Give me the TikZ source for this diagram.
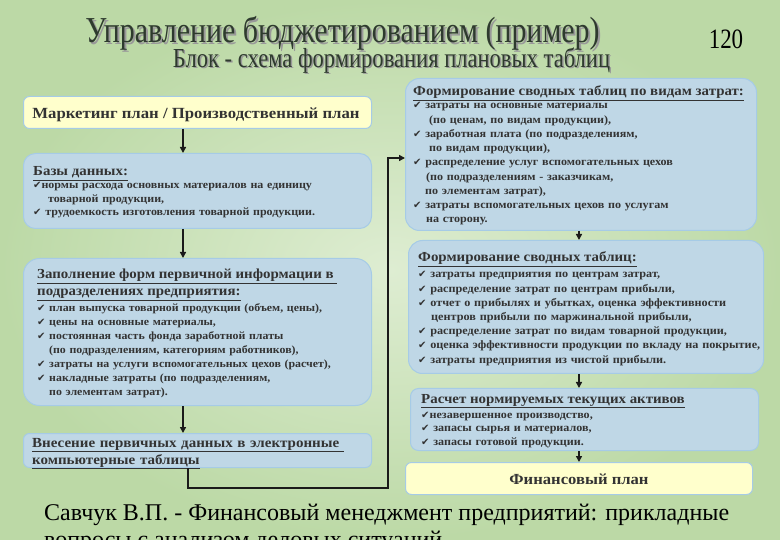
\documentclass[tikz,border=0pt]{standalone}
\usepackage{fontspec}
\setmainfont{Liberation Serif}
\newfontfamily\dejavu{DejaVu Sans}
\newfontfamily\narrowserif[FakeStretch=0.82]{Liberation Serif}
\newfontfamily\boxfont[FakeStretch=1.08]{Liberation Serif}
\usetikzlibrary{arrows.meta,calc}
\definecolor{bgLight}{HTML}{DEEDD2}
\definecolor{bgDark}{HTML}{BCD9A6}
\definecolor{boxBlue}{HTML}{BFD7E6}
\definecolor{boxEdge}{HTML}{A6CBE6}
\definecolor{boxYellow}{HTML}{FFFFCC}
\definecolor{txtGray}{HTML}{333333}
\definecolor{titleCol}{HTML}{2E3A2E}
\definecolor{lineCol}{HTML}{1A1A1A}
\newcommand{\chk}{{\dejavu\fontsize{10}{10}\selectfont ✔}}
\newcommand{\hd}[1]{{\fontsize{13.8}{14}\selectfont\underline{#1}}}
\tikzset{
  bluebox/.style={draw=boxEdge, line width=1pt, fill=boxBlue, rounded corners=12pt, anchor=north west, inner sep=0pt},
  yellowbox/.style={draw=boxEdge, line width=1pt, fill=boxYellow, rounded corners=6pt, anchor=north west, inner sep=0pt},
  txt/.style={anchor=base west, inner sep=0pt, align=left, text width=420pt, text=txtGray},
  conn/.style={draw=lineCol, line width=2.2pt, line join=miter},
  flow/.style={conn, -{Triangle[length=6pt,width=6pt]}},
}
\begin{document}
\begin{tikzpicture}[x=1pt,y=-1pt]
\useasboundingbox (0,0) rectangle (780,540);
\clip (0,0) rectangle (780,540);
\shade[inner color=bgLight, outer color=bgDark] (0,0) rectangle (780,540);

% titles
\node[inner sep=0pt, text=black!40, font=\narrowserif\fontsize{36.5}{36.5}\selectfont] at (344.5,35.5) {Управление бюджетированием (пример)};
\node[inner sep=0pt, text=titleCol, font=\narrowserif\fontsize{36.5}{36.5}\selectfont] (title) at (342.5,33.5) {Управление бюджетированием (пример)};
\node[inner sep=0pt, text=black, font=\narrowserif\fontsize{28}{28}\selectfont] (num) at (726,39) {120};
\node[inner sep=0pt, text=black!40, font=\narrowserif\fontsize{27.5}{27.5}\selectfont] at (393,62) {Блок - схема формирования плановых таблиц};
\node[inner sep=0pt, text=titleCol, font=\narrowserif\fontsize{27.5}{27.5}\selectfont] (subtitle) at (391.5,60.5) {Блок - схема формирования плановых таблиц};

% boxes
\node[yellowbox, minimum width=348pt, minimum height=32pt] (b1) at (23,96) {};
\node[bluebox, minimum width=348pt, minimum height=75pt] (b2) at (23,153) {};
\node[bluebox, rounded corners=16pt, minimum width=348pt, minimum height=147pt] (b3) at (23,258) {};
\node[bluebox, rounded corners=6pt, minimum width=348pt, minimum height=34pt] (b4) at (23,433) {};
\node[bluebox, rounded corners=14pt, minimum width=351pt, minimum height=152pt] (b5) at (405,78) {};
\node[bluebox, rounded corners=14pt, minimum width=355pt, minimum height=133pt] (b6) at (408,240) {};
\node[bluebox, rounded corners=8pt, minimum width=348pt, minimum height=62pt] (b7) at (410,388) {};
\node[yellowbox, minimum width=347pt, minimum height=32pt] (b8) at (405,462) {};

% texts
\node[anchor=base, inner sep=0pt, text=txtGray, font=\boxfont\bfseries\fontsize{15.5}{16}\selectfont] (t1) at (196,119) {Маркетинг план / Производственный план};

\node[txt, font=\boxfont\bfseries\fontsize{11.1}{13.5}\selectfont] (t2) at (33,176) {\hd{Базы данных:}\\[-0.5pt]
\chk нормы расхода основных материалов на единицу\\
\hspace*{15pt}товарной продукции,\\
\chk\ трудоемкость изготовления товарной продукции.};

\node[txt, font=\boxfont\bfseries\fontsize{11}{14}\selectfont] (t3) at (37,279) {\hd{Заполнение форм первичной информации в\ }\\[3pt]
\hd{подразделениях предприятия:}\\[2pt]
\chk\ план выпуска товарной продукции (объем, цены),\\
\chk\ цены на основные материалы,\\
\chk\ постоянная часть фонда заработной платы\\
\hspace*{12pt}(по подразделениям, категориям работников),\\
\chk\ затраты на услуги вспомогательных цехов (расчет),\\
\chk\ накладные затраты (по подразделениям,\\
\hspace*{12pt}по элементам затрат).};

\node[txt, font=\boxfont\bfseries\fontsize{13.9}{17}\selectfont] (t4) at (32,447) {\underline{Внесение первичных данных в электронные\ }\\
\underline{компьютерные таблицы}};

\node[txt, font=\boxfont\bfseries\fontsize{11.2}{14.25}\selectfont] (t5) at (413,96) {\hd{Формирование сводных таблиц по видам затрат:}\\[-1.25pt]
\chk\ затраты на основные материалы\\
\hspace*{16pt}(по ценам, по видам продукции),\\
\chk\ заработная плата (по подразделениям,\\
\hspace*{16pt}по видам продукции),\\
\chk\ распределение услуг вспомогательных цехов\\
\hspace*{13pt}(по подразделениям - заказчикам,\\
\hspace*{12pt}по элементам затрат),\\
\chk\ затраты вспомогательных цехов по услугам\\
\hspace*{13pt}на сторону.};

\node[txt, font=\boxfont\bfseries\fontsize{11.3}{14.2}\selectfont] (t6) at (418,262) {\hd{Формирование сводных таблиц:}\\[1.8pt]
\chk\ затраты предприятия по центрам затрат,\\
\chk\ распределение затрат по центрам прибыли,\\
\chk\ отчет о прибылях и убытках, оценка эффективности\\
\hspace*{13pt}центров прибыли по маржинальной прибыли,\\
\chk\ распределение затрат по видам товарной продукции,\\
\chk\ оценка эффективности продукции по вкладу на покрытие,\\
\chk\ затраты предприятия из чистой прибыли.};

\node[txt, font=\boxfont\bfseries\fontsize{11.2}{13.5}\selectfont] (t7) at (421,403) {\hd{Расчет нормируемых текущих активов}\\[1.5pt]
\chk незавершенное производство,\\
\chk\ запасы сырья и материалов,\\
\chk\ запасы готовой продукции.};

\node[anchor=base, inner sep=0pt, text=txtGray, font=\boxfont\bfseries\fontsize{15.4}{16}\selectfont] (t8) at (579,484) {Финансовый план};

% source
\node[anchor=base west, inner sep=0pt, text=black, font=\fontsize{24}{24}\selectfont] (src1) at (44,520) {Савчук В.П. - Финансовый менеджмент предприятий: прикладные};
\node[anchor=base west, inner sep=0pt, text=black, font=\fontsize{24}{24}\selectfont] (src2) at (44,547) {вопросы с анализом деловых ситуаций};

% connectors
\coordinate (lc) at (183,0);
\coordinate (rc) at (579,0);
\coordinate (c0) at (188,488);
\coordinate (c1) at (388,488);
\coordinate (c2) at (388,158);
\draw[flow] (lc |- b1.south) -- (lc |- b2.north);
\draw[flow] (lc |- b2.south) -- (lc |- b3.north);
\draw[flow] (lc |- b3.south) -- (lc |- b4.north);
\draw[flow] (c0 |- b4.south) -- (c0) -- (c1) -- (c2) -- (b5.west |- c2);
\draw[flow] (rc |- b5.south) -- (rc |- b6.north);
\draw[flow] (rc |- b6.south) -- (rc |- b7.north);
\draw[flow] (rc |- b7.south) -- (rc |- b8.north);
\end{tikzpicture}
\end{document}
